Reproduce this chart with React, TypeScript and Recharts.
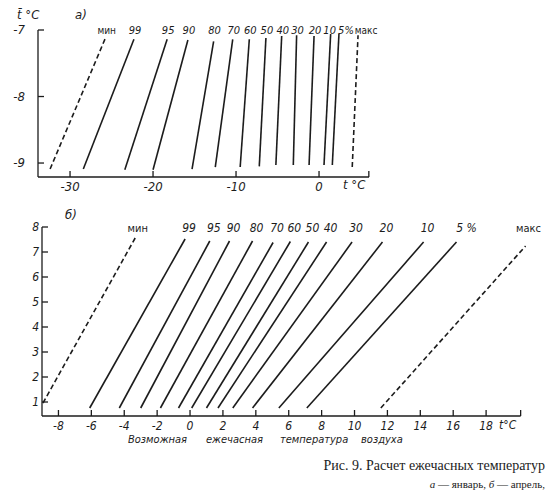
import React from "react";
import { LineChart, Line, XAxis, YAxis, LabelList, ReferenceLine } from "recharts";

// а) январь
const janNames = ["мин", "99", "95", "90", "80", "70", "60", "50", "40", "30", "20", "10", "5%", "макс"];
const janLowT = [-32.4, -28.4, -23.4, -20.0, -15.3, -12.5, -9.5, -7.2, -5.2, -3.1, -1.2, 0.6, 1.6, 4.0];
const janHighT = [-25.7, -22.3, -18.3, -15.8, -12.7, -10.4, -8.4, -6.4, -4.5, -2.7, -0.6, 1.4, 2.4, 4.7];
const janLowY = [-9.09, -9.09, -9.1, -9.1, -9.09, -9.06, -9.06, -9.05, -9.03, -9.03, -9.03, -9.03, -9.03, -9.06];
const janHighY = [-7.11, -7.14, -7.14, -7.15, -7.17, -7.14, -7.14, -7.12, -7.09, -7.08, -7.09, -7.06, -7.06, -7.08];
const janXTicks = [-30, -20, -10, 0];
const janYTicks = [-9, -8, -7];

// б) апрель
const aprNames = ["мин", "99", "95", "90", "80", "70", "60", "50", "40", "30", "20", "10", "5 %", "макс"];
const aprLowT = [-8.94, -6.1, -4.3, -3.0, -1.8, -0.7, 0.1, 1.0, 1.7, 2.6, 3.8, 5.4, 7.1, 11.6];
const aprHighT = [-3.3, -0.3, 1.2, 2.4, 3.8, 5.05, 6.1, 7.2, 8.3, 9.85, 11.7, 14.2, 16.2, 20.4];
const aprLowY = [0.96, 0.76, 0.76, 0.76, 0.76, 0.76, 0.76, 0.76, 0.76, 0.76, 0.76, 0.76, 0.76, 0.76];
const aprHighY = [7.6, 7.52, 7.44, 7.44, 7.44, 7.38, 7.42, 7.4, 7.4, 7.4, 7.4, 7.4, 7.4, 7.24];
const aprXTicks = [-8, -6, -4, -2, 0, 2, 4, 6, 8, 10, 12, 14, 16, 18];
const aprYTicks = [1, 2, 3, 4, 5, 6, 7, 8];

const INK = "#1c1c1c";
const TECH = '"DejaVu Sans Condensed", "Liberation Sans Narrow", "DejaVu Sans", sans-serif';

const janShift: Record<string, number> = { "10": -2, "5%": 6, "макс": 7 };
const aprShift: Record<string, number> = { "мин": -2, "5 %": 6, "макс": -1 };

function lines(lowT: number[], highT: number[], lowY: number[], highY: number[]) {
  return lowT.map((_, i) => [
    { t: lowT[i], y: lowY[i] },
    { t: highT[i], y: highY[i] },
  ]);
}

const janLines = lines(janLowT, janHighT, janLowY, janHighY);
const aprLines = lines(aprLowT, aprHighT, aprLowY, aprHighY);

const fmt = (v: number) => (v < 0 ? "-" + Math.abs(v) : String(v));

function makeXTick(labels: number[], dy: number, size: number, end: number) {
  return (p: any) => {
    const v = p.payload.value;
    const isEnd = Math.abs(v - end) < 1e-6;
    return (
      <g>
        <line x1={p.x} x2={p.x} y1={p.y} y2={p.y - 6} stroke={INK} strokeWidth={1.3} />
        {!isEnd && labels.includes(v) && (
          <text x={p.x} y={p.y + dy} textAnchor="middle" fontSize={size} fontStyle="italic" fontFamily={TECH} fill={INK}>
            {fmt(v)}
          </text>
        )}
      </g>
    );
  };
}

function makeYTick(gap: number, size: number) {
  return (p: any) => (
    <g>
      <line x1={p.x} x2={p.x + 6} y1={p.y} y2={p.y} stroke={INK} strokeWidth={1.3} />
      <text x={p.x - gap} y={p.y + 4} textAnchor="end" fontSize={size} fontStyle="italic" fontFamily={TECH} fill={INK}>
        {fmt(p.payload.value)}
      </text>
    </g>
  );
}

function topLabel(name: string, baseline: number, shift: number, size: number) {
  return (p: any) => {
    if (p.index !== 1) return null;
    const x = p.x ?? p.viewBox?.x;
    const word = name === "мин" || name === "макс";
    return (
      <text
        x={x + shift}
        y={baseline}
        textAnchor="middle"
        fontSize={word ? size - 1 : size}
        fontStyle={word ? "normal" : "italic"}
        fontFamily={TECH}
        fill={INK}
      >
        {name}
      </text>
    );
  };
}

export default function App() {
  return (
    <div style={{ position: "absolute", left: 0, top: 0, width: 559, height: 494, background: "#fff", overflow: "hidden" }}>
      <div style={{ position: "absolute", left: 0, top: 0 }}>
        <LineChart width={559} height={200} margin={{ top: 30, right: 190, bottom: 22, left: 37 }}>
          <XAxis
            type="number"
            dataKey="t"
            domain={[-33.86, 6.02]}
            ticks={[...janXTicks, 6.0]}
            height={1}
            tickSize={0}
            tickMargin={0}
            tickLine={false}
            interval={0}
            axisLine={{ stroke: INK, strokeWidth: 1.3 }}
            tick={makeXTick(janXTicks, 14, 13, 6.0)}
          />
          <YAxis
            type="number"
            dataKey="y"
            domain={[-9.21, -7]}
            ticks={janYTicks}
            width={1}
            tickSize={0}
            tickMargin={0}
            tickLine={false}
            interval={0}
            axisLine={{ stroke: INK, strokeWidth: 1.3 }}
            tick={makeYTick(13, 13)}
          />
          {janLines.map((d, i) => {
            const name = janNames[i];
            const dashed = name === "мин" || name === "макс";
            return (
              <Line
                key={"a" + i}
                data={d}
                dataKey="y"
                stroke={INK}
                strokeWidth={1.6}
                strokeDasharray={dashed ? "5 3" : undefined}
                dot={false}
                activeDot={false}
                isAnimationActive={false}
              >
                <LabelList dataKey="y" content={topLabel(name, 34, 1 + (janShift[name] ?? 0), 11)} />
              </Line>
            );
          })}
        </LineChart>
      </div>

      <div style={{ position: "absolute", left: 0, top: 200 }}>
        <LineChart width={559} height={260} margin={{ top: 27, right: 32.6, bottom: 43, left: 41 }}>
          <XAxis
            type="number"
            dataKey="t"
            domain={[-9.0, 20.45]}
            ticks={[...aprXTicks, 20.1]}
            height={1}
            tickSize={0}
            tickMargin={0}
            tickLine={false}
            interval={0}
            axisLine={false}
            tick={makeXTick(aprXTicks, 14, 12, 20.1)}
          />
          <YAxis
            type="number"
            dataKey="y"
            domain={[0.44, 8]}
            ticks={aprYTicks}
            width={1}
            tickSize={0}
            tickMargin={0}
            tickLine={false}
            interval={0}
            axisLine={{ stroke: INK, strokeWidth: 1.3 }}
            tick={makeYTick(3, 12)}
          />
          <ReferenceLine
            segment={[{ x: -9.0, y: 0.44 }, { x: 20.1, y: 0.44 }]}
            stroke={INK}
            strokeWidth={1.3}
          />
          {aprLines.map((d, i) => {
            const name = aprNames[i];
            const dashed = name === "мин" || name === "макс";
            return (
              <Line
                key={"b" + i}
                data={d}
                dataKey="y"
                stroke={INK}
                strokeWidth={1.6}
                strokeDasharray={dashed ? "5 3" : undefined}
                dot={false}
                activeDot={false}
                isAnimationActive={false}
              >
                <LabelList dataKey="y" content={topLabel(name, 32, 4 + (aprShift[name] ?? 0), 12)} />
              </Line>
            );
          })}
        </LineChart>
      </div>

      <svg width={559} height={494} style={{ position: "absolute", left: 0, top: 0, pointerEvents: "none" }}>
        <text x={17} y={19} fontSize={13} fontStyle="italic" fontFamily={TECH} fill={INK}>
          t̄ °C
        </text>
        <text x={75} y={19} fontSize={13} fontStyle="italic" fontFamily={TECH} fill={INK}>
          а)
        </text>
        <text x={343} y={189} fontSize={13} fontStyle="italic" fontFamily={TECH} fill={INK}>
          t °C
        </text>
        <text x={65} y={219} fontSize={13} fontStyle="italic" fontFamily={TECH} fill={INK}>
          б)
        </text>
        <text x={499} y={429} fontSize={12} fontStyle="italic" fontFamily={TECH} fill={INK}>
          t°C
        </text>
        {[
          ["Возможная", 128],
          ["ежечасная", 206],
          ["температура", 280],
          ["воздуха", 361],
        ].map(([w, x]) => (
          <text key={w as string} x={x as number} y={443} fontSize={11} fontStyle="italic" fontFamily={TECH} fill={INK}>
            {w}
          </text>
        ))}
        <text x={545} y={470} textAnchor="end" fontSize={14} fontFamily='"Liberation Serif", "DejaVu Serif", serif' fill={INK}>
          Рис. 9. Расчет ежечасных температур
        </text>
        <text x={545} y={488} textAnchor="end" fontSize={11} fontFamily='"Liberation Serif", "DejaVu Serif", serif' fill={INK}>
          <tspan fontStyle="italic">а</tspan> — январь, <tspan fontStyle="italic">б</tspan> — апрель,
        </text>
      </svg>
    </div>
  );
}
